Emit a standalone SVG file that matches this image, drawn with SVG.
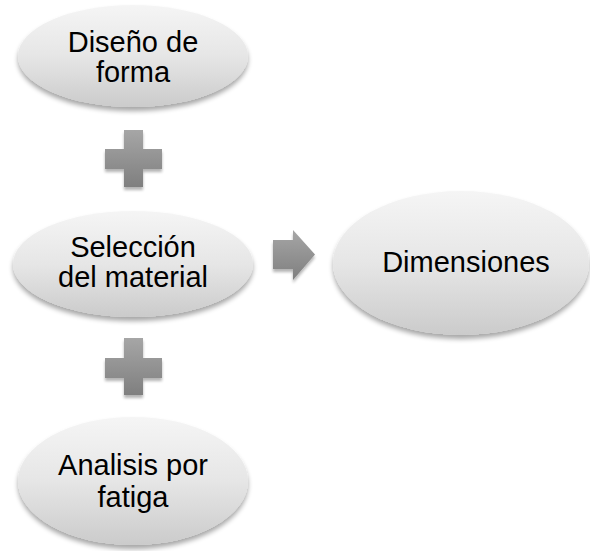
<svg xmlns="http://www.w3.org/2000/svg" width="590" height="551" viewBox="0 0 590 551">
<defs>
<linearGradient id="eg" x1="0" y1="0" x2="0" y2="1">
<stop offset="0" stop-color="#f5f5f5"/>
<stop offset="0.5" stop-color="#e6e6e6"/>
<stop offset="1" stop-color="#cbcbcb"/>
</linearGradient>
<linearGradient id="pg" x1="0" y1="0" x2="0" y2="1">
<stop offset="0" stop-color="#a6a6a6"/>
<stop offset="1" stop-color="#7f7f7f"/>
</linearGradient>
<filter id="sh" x="-20%" y="-20%" width="140%" height="150%">
<feGaussianBlur in="SourceAlpha" stdDeviation="2.5"/>
<feOffset dx="0" dy="4" result="b"/>
<feComponentTransfer><feFuncA type="linear" slope="0.35"/></feComponentTransfer>
<feMerge><feMergeNode/><feMergeNode in="SourceGraphic"/></feMerge>
</filter>
<filter id="sh2" x="-30%" y="-30%" width="160%" height="170%">
<feGaussianBlur in="SourceAlpha" stdDeviation="1.5"/>
<feOffset dx="0" dy="3" result="b"/>
<feComponentTransfer><feFuncA type="linear" slope="0.3"/></feComponentTransfer>
<feMerge><feMergeNode/><feMergeNode in="SourceGraphic"/></feMerge>
</filter>
</defs>
<style>
.node ellipse{fill:url(#eg);filter:url(#sh)}
.node text{font-family:"Liberation Sans",Arial,sans-serif;font-size:29px;fill:#000;text-anchor:middle}
.sym{fill:url(#pg);filter:url(#sh2)}
</style>
<rect width="590" height="551" fill="#ffffff"/>
<g id="connectors">
<path class="sym" d="M124,130H143V149H162V169H143V187H124V169H105V149H124Z"/>
<path class="sym" d="M124,338H143V358H162V378H143V395H124V378H105V358H124Z"/>
<path class="sym" d="M273,240H293V230L315,254.5L293,280V269H273Z"/>
</g>
<g id="n1" class="node">
<ellipse cx="133" cy="56" rx="115" ry="51"/>
<text x="133" y="52">Diseño de</text>
<text x="133" y="82">forma</text>
</g>
<g id="n2" class="node">
<ellipse cx="133" cy="264" rx="120" ry="53"/>
<text x="133" y="257">Selección</text>
<text x="133" y="287">del material</text>
</g>
<g id="n3" class="node">
<ellipse cx="461" cy="263" rx="128" ry="72"/>
<text x="466" y="272">Dimensiones</text>
</g>
<g id="n4" class="node">
<ellipse cx="133" cy="481" rx="115" ry="64"/>
<text x="133" y="475">Analisis por</text>
<text x="133" y="507">fatiga</text>
</g>
</svg>
